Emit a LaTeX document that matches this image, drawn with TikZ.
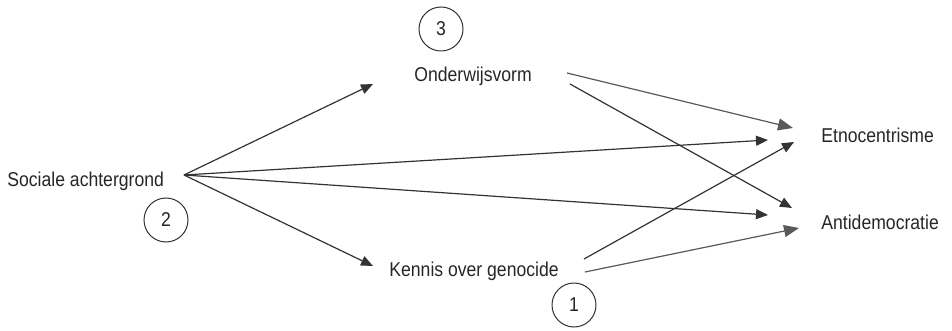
\documentclass[tikz,border=0pt]{standalone}
\usepackage{fontspec}
\setmainfont{Liberation Sans}[FakeStretch=0.88]
\usepackage{xcolor}
\usepackage{tikz}
\usetikzlibrary{positioning,arrows.meta,calc}

\begin{document}
\begin{tikzpicture}[x=0.5pt, y=-0.5pt,
    every node/.style={font=\fontsize{10pt}{12pt}\selectfont, text=black!85},
    factor/.style={inner sep=0pt, anchor=base west},
    stage/.style={circle, draw=black!80, line width=0.5pt, minimum size=22pt, inner sep=0pt},
    path/.style={draw=black!80, line width=0.6pt, -{Triangle[length=6pt, width=5pt]}},
    lpath/.style={draw=black!65, line width=0.6pt, -{Triangle[length=7.5pt, width=6pt]}}]
    \useasboundingbox (0,0) rectangle (952,331);
    % Factors
    \node[factor] (soc) at (7,187) {Sociale achtergrond};
    \node[factor] (onder) at (414,82) {Onderwijsvorm};
    \node[factor] (kennis) at (389,277) {Kennis over genocide};
    \node[factor] (etno) at (821,143) {Etnocentrisme};
    \node[factor] (anti) at (821,229) {Antidemocratie};
    % Stages
    \node[stage] (s2) at (166,220) {2};
    \node[stage] (s3) at (441,29) {3};
    \node[stage] (s1) at (574,305) {1};

    % Arrows
    \draw[path] ([shift={(177,-12)}]soc.base west) -- ([shift={(-41,2)}]onder.base west);
    \draw[path] ([shift={(177,-12)}]soc.base west) -- ([shift={(-16,-11)}]kennis.base west);
    \draw[path] ([shift={(177,-12)}]soc.base west) -- ([shift={(-53,-3)}]etno.base west);
    \draw[path] ([shift={(177,-12)}]soc.base west) -- ([shift={(-53,-14)}]anti.base west);
    \draw[lpath] ([shift={(153,-9)}]onder.base west) -- ([shift={(-28,-15)}]etno.base west);
    \draw[path] ([shift={(156,2)}]onder.base west) -- ([shift={(-29,-21)}]anti.base west);
    \draw[path] ([shift={(195,-18)}]kennis.base west) -- ([shift={(-27,-1)}]etno.base west);
    \draw[lpath] ([shift={(196,-5)}]kennis.base west) -- ([shift={(-22,-1)}]anti.base west);
\end{tikzpicture}
\end{document}
